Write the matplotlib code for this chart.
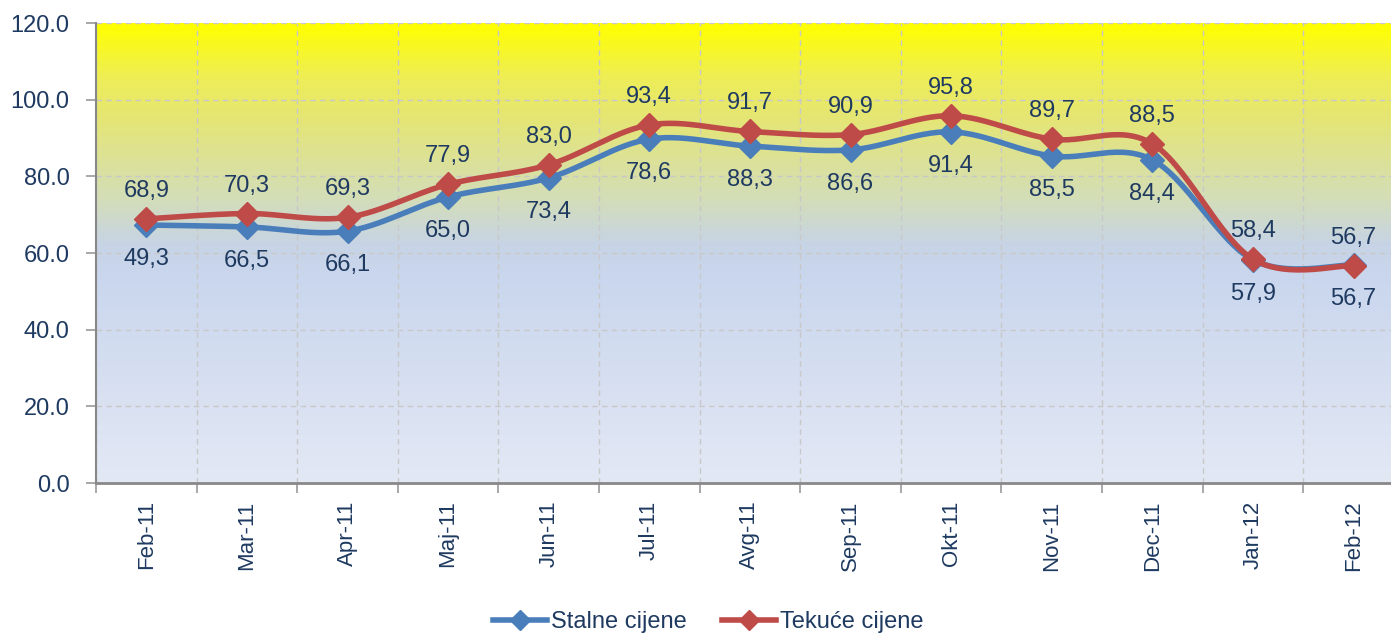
import matplotlib.pyplot as plt
import numpy as np
from matplotlib.colors import LinearSegmentedColormap
from matplotlib.lines import Line2D

plt.rcParams['font.family'] = ['Liberation Sans', 'DejaVu Sans']

months = ['Feb-11', 'Mar-11', 'Apr-11', 'Maj-11', 'Jun-11', 'Jul-11', 'Avg-11',
          'Sep-11', 'Okt-11', 'Nov-11', 'Dec-11', 'Jan-12', 'Feb-12']
stalne = [67.3, 66.8, 65.7, 74.6, 79.6, 89.7, 87.9, 86.9, 91.6, 85.3, 84.3, 58.2, 56.9]
tekuce = [68.9, 70.3, 69.3, 77.9, 83.0, 93.4, 91.7, 90.9, 95.8, 89.7, 88.5, 58.4, 56.7]
stalne_labels = ['49,3', '66,5', '66,1', '65,0', '73,4', '78,6', '88,3',
                 '86,6', '91,4', '85,5', '84,4', '57,9', '56,7']
tekuce_labels = ['68,9', '70,3', '69,3', '77,9', '83,0', '93,4', '91,7',
                 '90,9', '95,8', '89,7', '88,5', '58,4', '56,7']

BLUE = '#4A7EBB'
RED = '#BE4B48'
TXT = '#1F3A60'
GRID = '#C8C8C8'


def smooth(x, y, n=30, t=0.5):
	# cardinal spline through the points (like Excel smoothed line)
	x = np.asarray(x, float)
	y = np.asarray(y, float)
	px = np.concatenate([[x[0]], x, [x[-1]]])
	py = np.concatenate([[y[0]], y, [y[-1]]])
	xs, ys = [], []
	for i in range(1, len(px) - 2):
		for s in np.linspace(0, 1, n, endpoint=False):
			h1 = 2*s**3 - 3*s**2 + 1
			h2 = -2*s**3 + 3*s**2
			h3 = s**3 - 2*s**2 + s
			h4 = s**3 - s**2
			mx1 = t*(px[i+1] - px[i-1]); my1 = t*(py[i+1] - py[i-1])
			mx2 = t*(px[i+2] - px[i]); my2 = t*(py[i+2] - py[i])
			xs.append(h1*px[i] + h2*px[i+1] + h3*mx1 + h4*mx2)
			ys.append(h1*py[i] + h2*py[i+1] + h3*my1 + h4*my2)
	xs.append(x[-1]); ys.append(y[-1])
	return xs, ys


fig = plt.figure(figsize=(13.91, 6.35), dpi=100)
ax = fig.add_axes([96/1391, 1 - 483/635, 1 - 96/1391, 460/635])

xpos = np.arange(len(months))
xmax = -0.5 + (1391 - 96) / 100.6

ax.set_yticks(np.arange(0, 121, 20))
ax.set_yticklabels(['%.1f' % v for v in np.arange(0, 121, 20)])
ax.set_xticks(xpos)
ax.set_xticklabels(months, rotation=90)
ax.set_xticks(np.arange(-0.5, len(months), 1), minor=True)
ax.set_xlim(-0.5, xmax)
ax.set_ylim(0, 120)
ax.tick_params(axis='x', which='major', length=0, pad=12.5, labelsize=16, labelcolor=TXT)
ax.tick_params(axis='x', which='minor', length=7, color='#999999', width=1.2)
ax.tick_params(axis='y', length=7, color='#999999', width=1.2, labelsize=17, labelcolor=TXT, pad=12)

# gradient background
cmap = LinearSegmentedColormap.from_list('bg', [
	(0.0, (0.89, 0.91, 0.96)),
	(0.45, (0.79, 0.84, 0.93)),
	(0.52, (0.78, 0.83, 0.90)),
	(0.62, (0.83, 0.87, 0.72)),
	(0.80, (0.90, 0.90, 0.45)),
	(0.88, (0.93, 0.93, 0.35)),
	(1.0, (1.0, 1.0, 0.0))])
grad = np.linspace(0, 1, 300).reshape(-1, 1)
ax.imshow(grad, cmap=cmap, origin='lower', aspect='auto',
          extent=[-0.5, xmax, 0, 120], zorder=0)
ax.set_xlim(-0.5, xmax)
ax.set_ylim(0, 120)

ax.grid(axis='y', which='major', ls=(0, (4, 3)), color=GRID, lw=1, zorder=1)
ax.grid(axis='x', which='minor', ls=(0, (4, 3)), color=GRID, lw=1, zorder=1)
for s in ['top', 'right']:
	ax.spines[s].set_visible(False)
ax.spines['left'].set_color('#888888')
ax.spines['left'].set_linewidth(1.5)
ax.spines['bottom'].set_color('#888888')
ax.spines['bottom'].set_linewidth(2)

sx, sy = smooth(xpos, stalne)
ax.plot(sx, sy, color=BLUE, lw=4, zorder=3, solid_capstyle='round')
ax.plot(xpos, stalne, ls='none', marker='D', ms=12, color=BLUE, zorder=4)
tx, ty = smooth(xpos, tekuce)
ax.plot(tx, ty, color=RED, lw=4, zorder=5, solid_capstyle='round')
ax.plot(xpos, tekuce, ls='none', marker='D', ms=12, color=RED, zorder=6)

for i in range(len(months)):
	ax.annotate(tekuce_labels[i], (xpos[i], tekuce[i]), xytext=(0, 28),
	            textcoords='offset pixels', ha='center', va='center',
	            fontsize=17, color=TXT, zorder=7)
	ax.annotate(stalne_labels[i], (xpos[i], stalne[i]), xytext=(0, -34),
	            textcoords='offset pixels', ha='center', va='center',
	            fontsize=17, color=TXT, zorder=7)

handles = [Line2D([], [], color=BLUE, lw=4, marker='D', ms=10),
           Line2D([], [], color=RED, lw=4, marker='D', ms=10)]
fig.legend(handles, ['Stalne cijene', 'Tekuće cijene'], loc='center',
           bbox_to_anchor=(708/1391, 1 - 622/635), ncol=2, frameon=False,
           fontsize=17, labelcolor=TXT, handlelength=2.3, handletextpad=0.15,
           columnspacing=1.5, borderpad=0)

fig.savefig('out.png', dpi=100)
